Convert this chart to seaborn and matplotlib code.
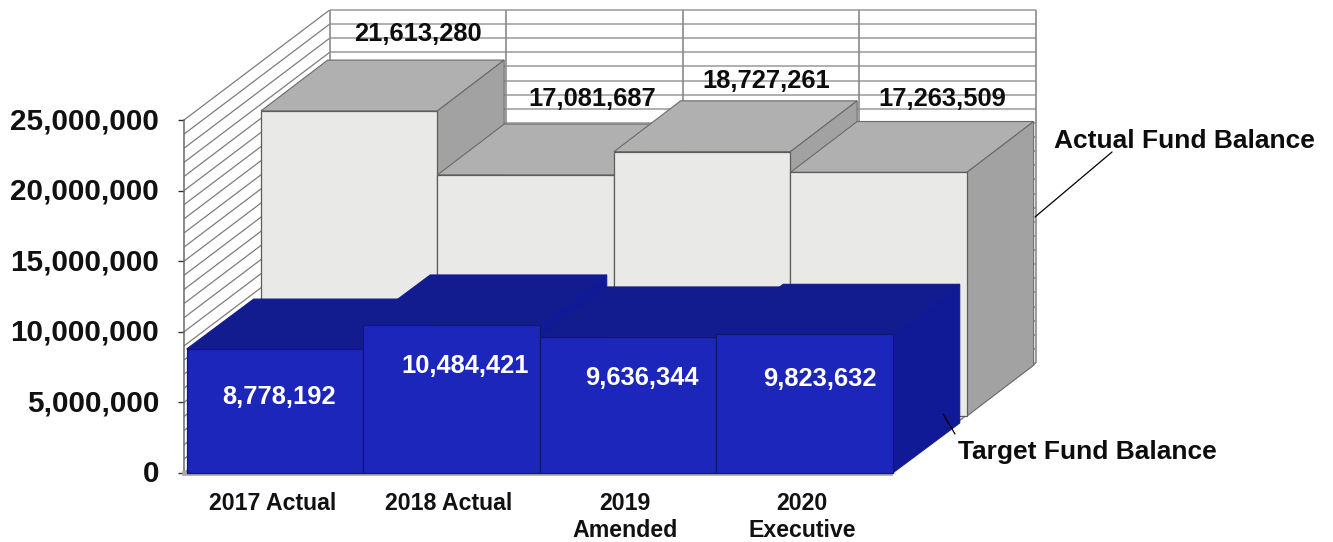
import numpy as np
import pandas as pd
import matplotlib
matplotlib.use("Agg")
import matplotlib.pyplot as plt
from matplotlib.collections import LineCollection
from matplotlib.lines import Line2D
from matplotlib.patches import Polygon
from matplotlib.ticker import FuncFormatter
from matplotlib.transforms import Affine2D, ScaledTranslation
import seaborn as sns

# Fund balance figures by budget year
categories = ["2017 Actual", "2018 Actual", "2019\nAmended", "2020\nExecutive"]
actual_balance = [21613280, 17081687, 18727261, 17263509]
target_balance = [8778192, 10484421, 9636344, 9823632]

# Value label anchors, in figure pixels from the top-left corner
actual_label_pos = [(418, 34), (592, 99), (766, 81), (942, 99)]
target_label_pos = [(279, 397), (465, 366), (642, 378), (820, 379)]

W, H = 1333, 542
AX_LEFT, AX_RIGHT, AX_TOP, AX_BOTTOM = 184, 890, 120, 473

sns.set_theme(style="white")
plt.rcParams["font.family"] = ["Liberation Sans", "DejaVu Sans"]
plt.rcParams["font.weight"] = "bold"

fig = plt.figure(figsize=(W / 100, H / 100), dpi=100, facecolor="white")
ax = fig.add_axes([AX_LEFT / W, 1 - AX_BOTTOM / H,
                   (AX_RIGHT - AX_LEFT) / W, (AX_BOTTOM - AX_TOP) / H])
ax.patch.set_alpha(0)

YMAX = 25_000_000
edges = np.arange(-0.5, 4.0, 1.0)

# Oblique projection: depth is expressed in data units on both axes
WALL_DX, WALL_DY = 0.825, 7.79e6
BACK_DX, BACK_DY = 0.436, 4.03e6     # back row front plane
BACK_DEPTH = (0.378, 3.60e6)
FRONT_DX, FRONT_DY = 0.015, 0.0      # front row front plane
FRONT_DEPTH = (0.38, 3.54e6)


def draw_walls():
    x0, x1 = edges[0], edges[-1]
    levels = np.arange(0, YMAX + 1, 1_000_000)
    back = [[(x0 + WALL_DX, v + WALL_DY), (x1 + WALL_DX, v + WALL_DY)] for v in levels]
    side = [[(x0, v), (x0 + WALL_DX, v + WALL_DY)] for v in levels]
    upright = [[(e + WALL_DX, WALL_DY), (e + WALL_DX, YMAX + WALL_DY)] for e in edges]
    ax.add_collection(LineCollection(back, colors="#a9a9a9", linewidths=1.3,
                                     zorder=1, clip_on=False))
    ax.add_collection(LineCollection(side, colors="#7d7d7d", linewidths=0.9,
                                     zorder=1, clip_on=False))
    ax.add_collection(LineCollection(upright, colors="#8a8a8a", linewidths=1.2,
                                     zorder=1.1, clip_on=False))
    ax.add_collection(LineCollection(
        [[(x0, 0), (x0 + WALL_DX, WALL_DY)], [(x1, 0), (x1 + WALL_DX, WALL_DY)]],
        colors="#777777", linewidths=1.0, zorder=1.1, clip_on=False))


def draw_row(values, colour, top_colour, side_colour, line_colour, depth_line,
             shift, depth, base_z):
    """One row of touching prisms; the front faces are seaborn bars."""
    first = len(ax.patches)
    frame = pd.DataFrame({"category": categories, "value": values})
    sns.barplot(data=frame, x="category", y="value", color=colour, saturation=1,
                width=1.0, edgecolor=line_colour, linewidth=0.9, ax=ax)
    dx, dy = depth
    sx, sy = shift
    to_data = Affine2D().translate(sx, sy) + ax.transData
    for i, bar in enumerate(ax.patches[first:first + len(values)]):
        z = base_z + i * 0.1
        bar.set_transform(to_data)
        bar.set_clip_on(False)
        bar.set_zorder(z + 0.05)
        left = bar.get_x() + sx
        right = left + bar.get_width()
        level = bar.get_height() + sy
        ax.add_patch(Polygon(
            [(left, level), (right, level), (right + dx, level + dy), (left + dx, level + dy)],
            closed=True, facecolor=top_colour, edgecolor=depth_line, linewidth=0.8,
            zorder=z, clip_on=False))
        ax.add_patch(Polygon(
            [(right, sy), (right + dx, sy + dy), (right + dx, level + dy), (right, level)],
            closed=True, facecolor=side_colour, edgecolor=depth_line, linewidth=0.8,
            zorder=z + 0.01, clip_on=False))


draw_walls()
draw_row(actual_balance, "#e9e9e7", "#b0b0b0", "#a2a2a2", "#5c5c5c", "#6a6a6a",
         (BACK_DX, BACK_DY), BACK_DEPTH, 2.0)
draw_row(target_balance, "#1c26ba", "#131c8e", "#111a96", "#10186e", "#131c8e",
         (FRONT_DX, FRONT_DY), FRONT_DEPTH, 3.0)

# Axes, ticks and category labels
ax.set_xlim(edges[0], edges[-1])
ax.set_ylim(0, YMAX)
ax.set_xlabel("")
ax.set_ylabel("")
ax.set_yticks(np.arange(0, YMAX + 1, 5_000_000))
ax.yaxis.set_major_formatter(FuncFormatter(lambda v, _: f"{int(v):,}"))
ax.set_xticks(edges)
ax.set_xticklabels([])
ax.set_xticks(np.arange(4), minor=True)
ax.set_xticklabels(categories, minor=True, fontsize=16.7, fontweight="bold", color="#111111")
ax.tick_params(axis="x", which="major", direction="out", length=5, width=1, color="#333333")
ax.tick_params(axis="x", which="minor", length=0, pad=13.7)
ax.tick_params(axis="y", which="major", left=True, direction="out", length=4, width=1,
               color="#333333", pad=14, labelsize=21.3, labelcolor="#111111")
raise_labels = ScaledTranslation(0, 2 / 100, fig.dpi_scale_trans)
for lab in ax.get_yticklabels():
    lab.set_fontweight("bold")
    lab.set_transform(lab.get_transform() + raise_labels)
for name, spine in ax.spines.items():
    spine.set_visible(name in ("left", "bottom"))
ax.spines["left"].set_color("#6a6a6a")
ax.spines["left"].set_linewidth(1.1)
ax.spines["bottom"].set_color("#a8a8a8")
ax.spines["bottom"].set_linewidth(3.4)
ax.spines["bottom"].set_zorder(2.5)


def px_text(x, y, text, **kw):
    fig.text(x / W, 1 - y / H, text, ha="center", va="center",
             fontweight="bold", zorder=6, **kw)


for (x, y), v in zip(actual_label_pos, actual_balance):
    px_text(x, y, f"{v:,}", fontsize=18.4, color="#0d0d0d")
for (x, y), v in zip(target_label_pos, target_balance):
    px_text(x, y, f"{v:,}", fontsize=18.4, color="white")

px_text(1184, 141, "Actual Fund Balance", fontsize=19, color="#0d0d0d")
px_text(1087, 452, "Target Fund Balance", fontsize=19, color="#0d0d0d")

for xs, ys in (((1035, 1112), (217, 152)), ((943, 955), (414, 434))):
    fig.add_artist(Line2D([x / W for x in xs], [1 - y / H for y in ys],
                          color="black", linewidth=0.9, zorder=6))

fig.savefig("out.png", dpi=100, facecolor="white")
